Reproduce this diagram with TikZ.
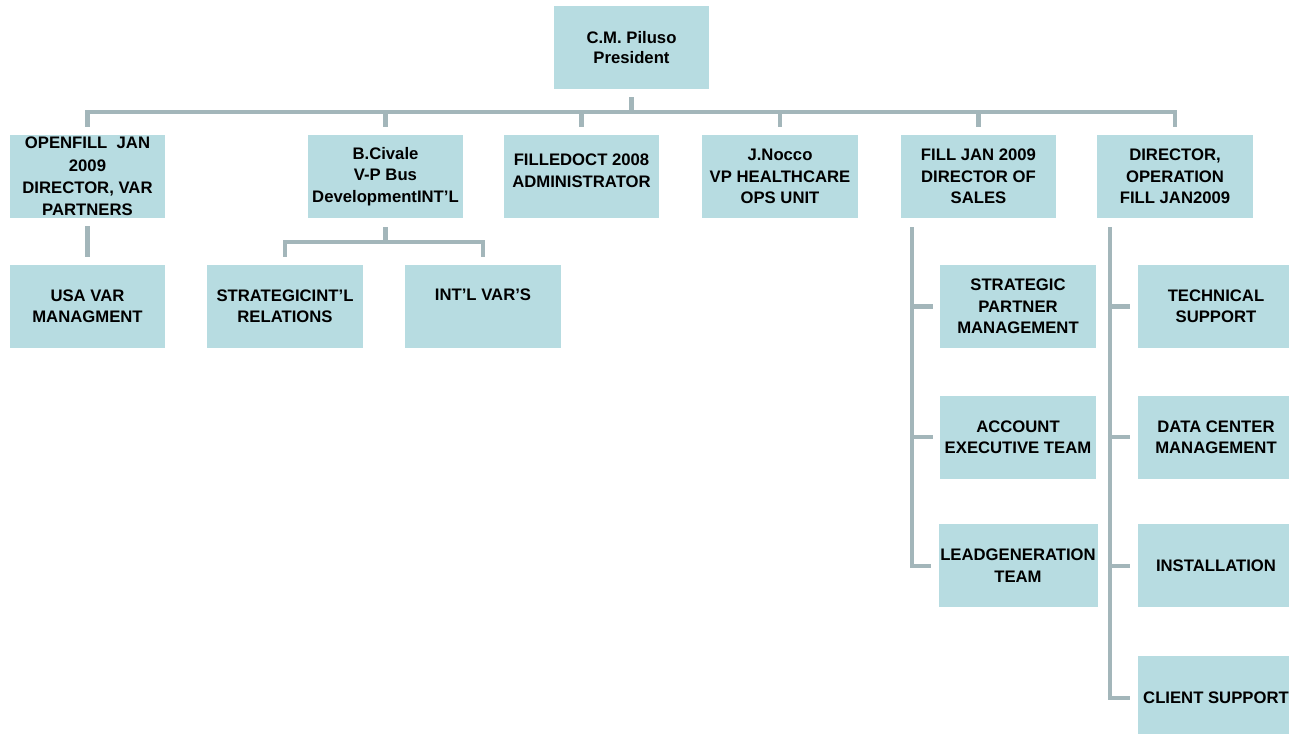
\documentclass[tikz,border=0pt]{standalone}
\usepackage{fontspec}
\setmainfont{Liberation Sans}
\usepackage{xcolor}
\usetikzlibrary{positioning}

\definecolor{boxfill}{RGB}{183,220,225}
\definecolor{linkgray}{RGB}{163,182,186}

% texto desplazado hacia arriba dentro de la caja
\newcommand{\uptext}[2]{\raisebox{#1}{\begin{tabular}{@{}c@{}}#2\end{tabular}}}

\begin{document}
\begin{tikzpicture}[
            x=0.02cm, y=-0.02cm,               % 1 unidad = 1 px de la referencia
            block/.style={
                rectangle,
                fill=boxfill,
                minimum width=3.12cm,
                minimum height=1.66cm,
                align=center,
                inner sep=1pt,
                font=\fontsize{9.5}{12.2}\selectfont\bfseries
            },
            conn/.style={
                draw=linkgray,
                line width=2.3pt
            },
            gap/.style={
                shorten <=0.16cm,
                shorten >=0.16cm
            }
        ]
            \useasboundingbox (0,0) rectangle (1289,734);
            \clip (0,0) rectangle (1289,734);

            % --- PRESIDENTE ---
            \node [block, font=\fontsize{9.5}{11}\selectfont\bfseries] (pres) at (631.5,47.5) {C.M. Piluso\\President};

            % --- PRIMER NIVEL ---
            \node [block, font=\fontsize{9.5}{12.8}\selectfont\bfseries] (openfill) at (87.5,176.5) {OPENFILL\ \ JAN\\2009\\DIRECTOR, VAR\\PARTNERS};
            \node [block, minimum width=3.1cm] (civale) at (385.5,176.5) {B.Civale\\V-P Bus\\DevelopmentINT'L};
            \node [block] (filled) at (581.5,176.5) {\uptext{15pt}{FILLEDOCT 2008\\ADMINISTRATOR}};
            \node [block] (nocco) at (780,176.5) {J.Nocco\\VP HEALTHCARE\\OPS UNIT};
            \node [block] (sales) at (978.5,176.5) {FILL JAN 2009\\DIRECTOR OF\\SALES};
            \node [block] (ops) at (1175,176.5) {DIRECTOR,\\OPERATION\\FILL JAN2009};

            % --- SEGUNDO NIVEL ---
            \node [block] (usa) at (87.5,306.5) {USA VAR\\MANAGMENT};
            \node [block] (stratintl) at (285,306.5) {STRATEGICINT'L\\RELATIONS};
            \node [block] (intlvars) at (483,306.5) {\uptext{16pt}{INT'L VAR'S}};

            \node [block] (stratpart) at (1018,306.5) {STRATEGIC\\PARTNER\\MANAGEMENT};
            \node [block, below=0.94cm of stratpart] (account) {ACCOUNT\\EXECUTIVE TEAM};
            \node [block, below=0.9cm of account] (leadgen) {LEADGENERATION\\TEAM};

            \node [block] (tech) at (1216,306.5) {TECHNICAL\\SUPPORT};
            \node [block, below=0.94cm of tech] (datacenter) {DATA CENTER\\MANAGEMENT};
            \node [block, below=0.9cm of datacenter] (install) {INSTALLATION};
            \node [block, below=0.96cm of install] (client) {CLIENT SUPPORT};

            % --- ENLACES ---
            \coordinate (bus) at (631,112);
            \coordinate (civbus) at (385,242);
            \coordinate (srail) at (912,0);
            \coordinate (orail) at (1110,0);

            \path [conn, shorten <=0.16cm] (pres) -- (pres |- bus);
            \path [conn, gap] (openfill.north) -- (openfill |- bus) -- (ops |- bus) -- (ops.north);
            \foreach \n in {civale, filled, nocco, sales}
                \path [conn, shorten >=0.16cm] (\n |- bus) -- (\n.north);

            \path [conn, gap] (openfill) -- (usa);

            \path [conn, shorten <=0.18cm] (civale) -- (civale |- civbus);
            \path [conn, gap] (stratintl.north) -- (stratintl |- civbus) -- (intlvars |- civbus) -- (intlvars.north);

            \path [conn, shorten <=0.18cm, shorten >=0.14cm] (sales.south -| srail) |- (leadgen.west);
            \foreach \n in {stratpart, account}
                \path [conn, shorten >=0.14cm] (srail |- \n) -- (\n.west);

            \path [conn, shorten <=0.18cm, shorten >=0.16cm] (ops.south -| orail) |- (client.west);
            \foreach \n in {tech, datacenter, install}
                \path [conn, shorten >=0.16cm] (orail |- \n) -- (\n.west);
        \end{tikzpicture}
\end{document}
